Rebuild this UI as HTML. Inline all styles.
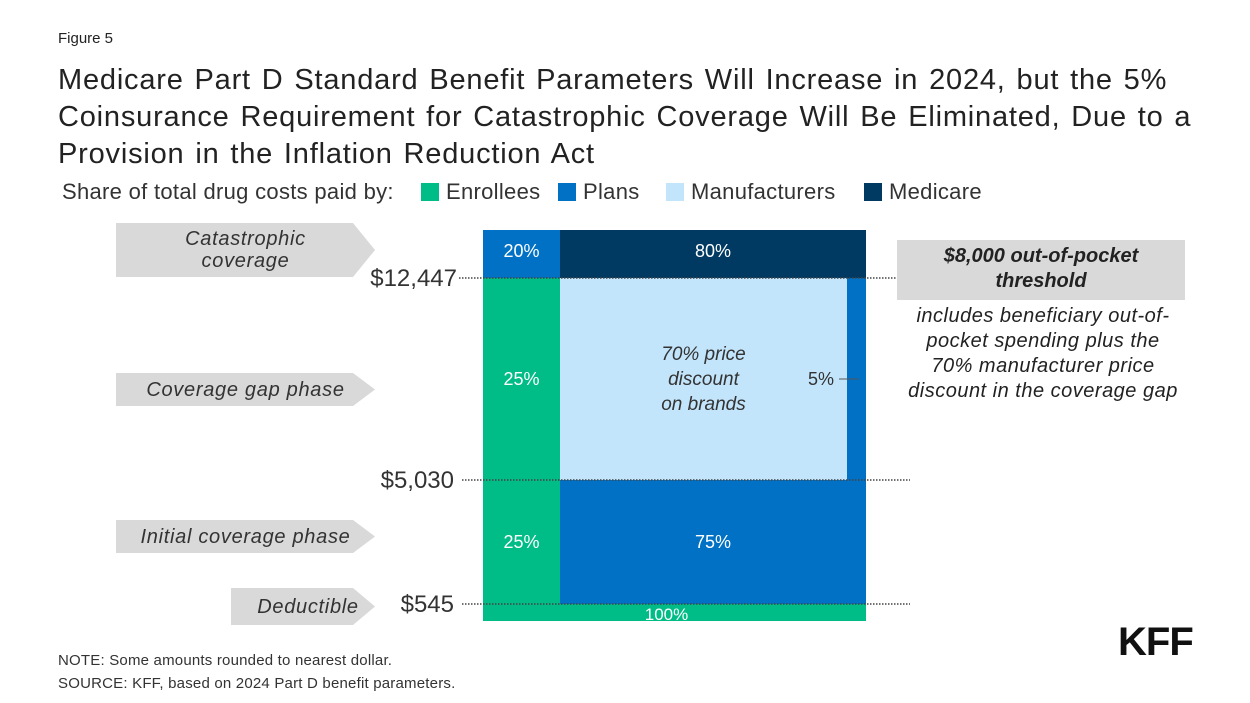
<!DOCTYPE html>
<html><head><meta charset="utf-8"><style>
body{margin:0;width:1250px;height:703px;background:#fff;font-family:"Liberation Sans",Arial,sans-serif;position:relative;overflow:hidden;color:#222}
.a{position:absolute}
.t{font-size:29px;line-height:37px;color:#222;left:58px;top:62px;white-space:nowrap;letter-spacing:0.8px;word-spacing:2px}
.leg{top:179px;font-size:22px;color:#333;white-space:nowrap;letter-spacing:0.3px}
.sw{display:inline-block;width:18px;height:18px;vertical-align:-2px;margin:0 7px 0 0}
.arrow{background:#d9d9d9;clip-path:polygon(0 0,calc(100% - 22px) 0,100% 50%,calc(100% - 22px) 100%,0 100%);font-style:italic;font-size:20px;letter-spacing:0.7px;color:#333;display:flex;align-items:center;justify-content:center;text-align:center;line-height:22px}
</style></head><body>
<div class="a" style="left:58px;top:30px;font-size:15px">Figure 5</div>
<div class="a t">Medicare Part D Standard Benefit Parameters Will Increase in 2024, but the 5%<br>Coinsurance Requirement for Catastrophic Coverage Will Be Eliminated, Due to a<br>Provision in the Inflation Reduction Act</div>
<div class="a leg" style="left:62px">Share of total drug costs paid by:</div>
<div class="a leg" style="left:421px"><span class="sw" style="background:#00bc86"></span>Enrollees</div>
<div class="a leg" style="left:558px"><span class="sw" style="background:#0071c5"></span>Plans</div>
<div class="a leg" style="left:666px"><span class="sw" style="background:#c3e5fb"></span>Manufacturers</div>
<div class="a leg" style="left:864px"><span class="sw" style="background:#003a63"></span>Medicare</div>

<div class="a arrow" style="left:116px;top:223px;width:259px;height:54px">Catastrophic<br>coverage</div>
<div class="a arrow" style="left:116px;top:373px;width:259px;height:33px">Coverage gap phase</div>
<div class="a arrow" style="left:116px;top:520px;width:259px;height:33px">Initial coverage phase</div>
<div class="a arrow" style="left:231px;top:588px;width:144px;height:37px;padding-left:10px;box-sizing:border-box">Deductible</div>

<svg class="a" style="left:0;top:0" width="1250" height="703" id="chart"></svg>

<div class="a" style="left:897px;top:240px;width:288px;height:60px;background:#d9d9d9;font-weight:bold;font-style:italic;font-size:20px;text-align:center;line-height:25px;padding-top:4px;box-sizing:border-box;color:#222">$8,000 out-of-pocket<br>threshold</div>
<div class="a" style="left:880px;top:304px;width:326px;font-style:italic;font-size:20px;letter-spacing:0.5px;text-align:center;line-height:25px;color:#222;white-space:nowrap">includes beneficiary out-of-<br>pocket spending plus the<br>70% manufacturer price<br>discount in the coverage gap</div>

<div class="a" style="left:1118px;top:620px;font-size:40px;font-weight:bold;letter-spacing:-1px;color:#111">KFF</div>
<div class="a" style="left:58px;top:649px;font-size:15px;letter-spacing:0.2px;color:#333;line-height:23px">NOTE: Some amounts rounded to nearest dollar.<br>SOURCE: KFF, based on 2024 Part D benefit parameters.</div>

<script>
const thresholds=["$545","$5,030","$12,447"];
const phases=["Deductible","Initial coverage","Coverage gap","Catastrophic"];
const enrolleeShare=[100,25,25,0];
const planShare=[0,75,5,20];
const manufacturerShare=[0,0,70,0];
const medicareShare=[0,0,0,80];
const NS="http://www.w3.org/2000/svg";
const svg=document.getElementById('chart');
const bandY=[[604,621],[480,604],[278,480],[230,278]];
const X0=483,X1=866,W=X1-X0;
const gapEnrolleeW=77, catPlanW=77;
function mk(tag,attrs){const e=document.createElementNS(NS,tag);for(const k in attrs)e.setAttribute(k,attrs[k]);svg.appendChild(e);return e;}
function txt(x,y,s,o){const e=mk('text',Object.assign({x:x,y:y,'text-anchor':'middle','font-size':18,fill:'#fff','font-family':'Liberation Sans, Arial, sans-serif'},o||{}));e.textContent=s;return e;}
const colors=['#00bc86','#0071c5','#c3e5fb','#003a63'];
phases.forEach((p,i)=>{
  const top=bandY[i][1]<bandY[i][0]?bandY[i][1]:bandY[i][0];
  const h=Math.abs(bandY[i][1]-bandY[i][0]);
  const shares=[enrolleeShare[i],planShare[i],manufacturerShare[i],medicareShare[i]];
  let widths;
  if(i===0) widths=[W*shares[0]/100,0,0,0];
  else if(i===1) widths=[gapEnrolleeW*shares[0]/25,W-gapEnrolleeW*shares[0]/25,0,0];
  else if(i===2){const rest=W-gapEnrolleeW*shares[0]/25;const pw=19*shares[1]/5;widths=[gapEnrolleeW*shares[0]/25,0,rest-pw,0,pw];}
  else widths=[0,catPlanW*shares[1]/20,0,W-catPlanW*shares[1]/20];
  let x=X0;
  const order=i===2?[0,2,1]:[0,1,2,3];
  order.forEach(k=>{
    const w=(i===2&&k===1)?widths[4]:widths[k];
    if(!w)return;
    const r=mk('rect',{x:x,y:top,width:w,height:h,fill:colors[k]});
    
    
    const cy=top+h/2+6;
    if(i===0){const t=txt(x+w/2-8,top+h-1,shares[k]+'%',{'font-size':17});}
    else if(i===2&&k===2){
      ['70% price','discount','on brands'].forEach((s,j)=>{const t=txt(x+w/2,cy-25+j*25,s,{fill:'#333','font-style':'italic','font-size':19});});
    }
    else if(i===2&&k===1){
      const t=txt(x-13,cy,shares[k]+'%',{fill:'#333','text-anchor':'end'});
      const l=mk('line',{x1:x-8,x2:x+12,y1:cy-6,y2:cy-6,stroke:'#555'});
    }
    else{const t=txt(x+w/2,i===3?cy-3:cy,shares[k]+'%');}
    x+=w;
  });
});
thresholds.forEach((s,i)=>{
  const y=bandY[i][0];
  const l=mk('line',{x1:i===2?459:462,x2:910,y1:y,y2:y,stroke:'#444','stroke-width':1.5,'stroke-dasharray':'1.5 1.5'});
  
  
  const t=txt(i===2?457:454,y+8,s,{fill:'#333','text-anchor':'end','font-size':24});
  
  
});
</script>
</body></html>
